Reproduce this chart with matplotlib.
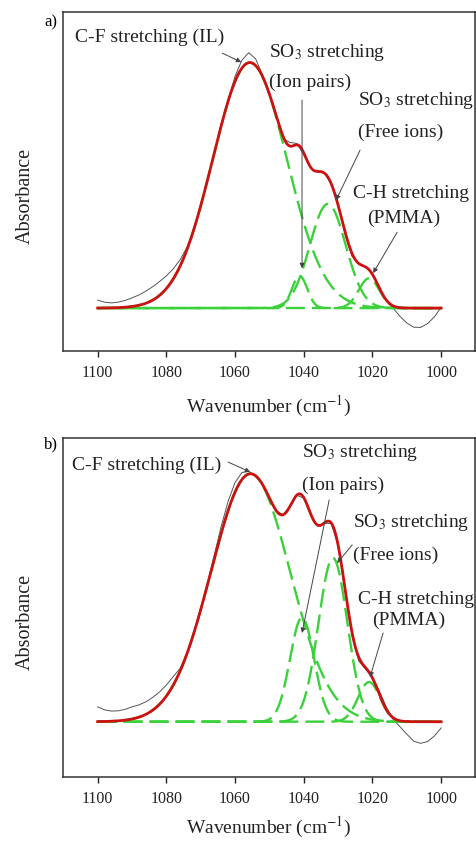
import numpy as np
import matplotlib
matplotlib.use('Agg')
import matplotlib.pyplot as plt

plt.rcParams['font.family'] = ['Liberation Serif', 'DejaVu Serif']
plt.rcParams['mathtext.fontset'] = 'stix'

# fitted components (C-F IL, SO3 ion pairs, SO3 free ions, C-H PMMA)
center_a = [1055.7, 1041.2, 1033.0, 1021.0]
height_a = [0.99, 0.13, 0.42, 0.12]
width_a = [10.8, 2.2, 5.2, 3.0]

center_b = [1055.5, 1040.5, 1031.5, 1021.0]
height_b = [1.00, 0.42, 0.66, 0.16]
width_b = [11.5, 3.5, 4.2, 3.2]

# measured spectrum, read every 2 cm-1 from 1100 down to 1000
wn_meas = np.arange(1100, 998, -2)
meas_a = [0.032, 0.024, 0.021, 0.024, 0.031, 0.041, 0.053, 0.068, 0.086, 0.107,
          0.130, 0.158, 0.195, 0.245, 0.318, 0.412, 0.518, 0.628, 0.737, 0.840,
          0.935, 1.000, 1.030, 1.005, 0.940, 0.862, 0.773, 0.683, 0.668, 0.664,
          0.619, 0.565, 0.549, 0.544, 0.500, 0.417, 0.300, 0.210, 0.180, 0.167,
          0.136, 0.079, 0.031, 0.000, -0.033, -0.060, -0.077, -0.078, -0.063,
          -0.036, 0.003]
meas_b = [0.060, 0.048, 0.043, 0.044, 0.050, 0.060, 0.068, 0.080, 0.098, 0.120,
          0.148, 0.182, 0.215, 0.278, 0.360, 0.455, 0.560, 0.675, 0.790, 0.890,
          0.965, 1.005, 1.010, 0.990, 0.956, 0.903, 0.850, 0.835, 0.870, 0.913,
          0.902, 0.832, 0.790, 0.800, 0.800, 0.710, 0.530, 0.350, 0.245, 0.212,
          0.180, 0.125, 0.060, 0.010, -0.020, -0.050, -0.078, -0.087, -0.080,
          -0.058, -0.025]

tick_vals = [1100, 1080, 1060, 1040, 1020, 1000]

# labels: (text, x, y, ha)
labels_a = [("C-F stretching (IL)", 1084.8, 1.093, 'center'),
            ("SO$_3$ stretching", 1050.1, 1.032, 'left'),
            ("(Ion pairs)", 1050.1, 0.911, 'left'),
            ("SO$_3$ stretching", 1024.2, 0.839, 'left'),
            ("(Free ions)", 1024.2, 0.710, 'left'),
            ("C-H stretching", 1025.6, 0.464, 'left'),
            ("(PMMA)", 1010.9, 0.363, 'center')]
arrows_a = [((1063.7, 1.028), (1058.2, 0.992)),
            ((1040.5, 0.839), (1040.5, 0.161)),
            ((1023.6, 0.637), (1030.6, 0.435)),
            ((1012.8, 0.306), (1019.8, 0.141))]

labels_b = [("C-F stretching (IL)", 1085.8, 1.035, 'center'),
            ("SO$_3$ stretching", 1040.5, 1.084, 'left'),
            ("(Ion pairs)", 1040.5, 0.954, 'left'),
            ("SO$_3$ stretching", 1025.6, 0.805, 'left'),
            ("(Free ions)", 1025.6, 0.672, 'left'),
            ("C-H stretching", 1024.2, 0.491, 'left'),
            ("(PMMA)", 1009.5, 0.410, 'center')]
arrows_b = [((1062.0, 1.047), (1055.6, 1.007)),
            ((1032.6, 0.894), (1040.5, 0.358)),
            ((1025.9, 0.713), (1030.3, 0.640)),
            ((1016.9, 0.358), (1020.7, 0.180))]


def gauss(x, c, h, w):
    return h * np.exp(-(x - c) ** 2 / (2 * w ** 2))


def draw_panel(ax, centers, heights, widths, meas, labels, arrows, ylim, offsets):
    x = np.linspace(1100, 1000, 1001)
    total = np.zeros_like(x)
    # measured (thin)
    ax.plot(wn_meas, meas, color='#555555', lw=0.7, zorder=1)
    # components (green dashed)
    for c, h, w, off in zip(centers, heights, widths, offsets):
        y = gauss(x, c, h, w)
        total += y
        ax.plot(x, y, color='#3ad13a', lw=1.7, linestyle=(off, (8, 3)), zorder=2)
    # fit (red)
    ax.plot(x, total, color='#cc1111', lw=2.0, zorder=3)

    for txt, tx, ty, ha in labels:
        ax.text(tx, ty, txt, ha=ha, va='center', fontsize=14, color='#222222')
    for tail, tip in arrows:
        ax.annotate('', xy=tip, xytext=tail,
                    arrowprops=dict(arrowstyle='-|>', color='#444444', lw=0.7,
                                    mutation_scale=7, shrinkA=0, shrinkB=0))

    ax.set_xlim(1110, 990)
    ax.set_ylim(*ylim)
    ax.set_yticks([])
    ax.set_xticks(tick_vals)
    ax.tick_params(axis='x', direction='out', length=4, width=1,
                   labelsize=11.5, pad=6, colors='#222222')
    for s in ax.spines.values():
        s.set_linewidth(1.1)
        s.set_color('#333333')


fig = plt.figure(figsize=(4.76, 8.41), dpi=100)
ax_a = fig.add_axes([63.3 / 476, 1 - 351 / 841, (475.5 - 63.3) / 476, 339 / 841])
ax_b = fig.add_axes([63.3 / 476, 1 - 777.3 / 841, (475.5 - 63.3) / 476, 339 / 841])

draw_panel(ax_a, center_a, height_a, width_a, meas_a, labels_a, arrows_a,
           (-0.173, 1.194), [0, 5.5, 2.75, 8.25])
draw_panel(ax_b, center_b, height_b, width_b, meas_b, labels_b, arrows_b,
           (-0.224, 1.143), [0, 0, 0, 0])

# axis labels
for yc in [196, 622]:
    fig.text(25 / 476, 1 - yc / 841, 'Absorbance', rotation=90, fontsize=14.5,
             ha='center', va='center', color='#222222')
for yc in [406, 827]:
    fig.text(269 / 476, 1 - yc / 841, 'Wavenumber (cm$^{-1}$)', fontsize=14,
             ha='center', va='center', color='#222222')
fig.text(51 / 476, 1 - 22 / 841, 'a)', fontsize=12, ha='center', va='center')
fig.text(51 / 476, 1 - 444 / 841, 'b)', fontsize=12, ha='center', va='center')

fig.savefig('out.png', dpi=100)
